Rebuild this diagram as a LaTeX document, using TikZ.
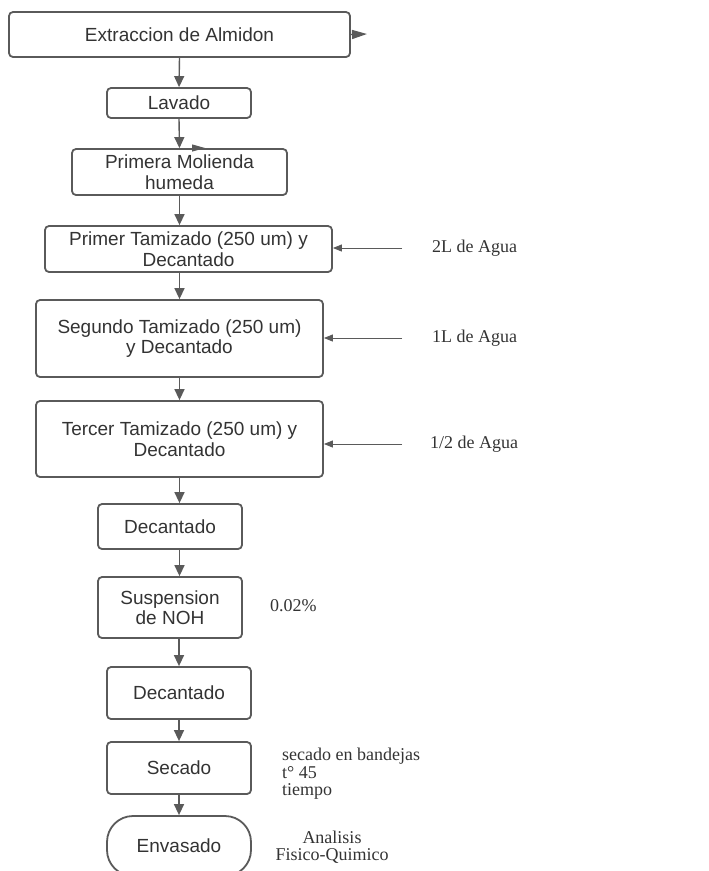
\documentclass[tikz,border=0pt]{standalone}
\usepackage{fontspec}
\setmainfont{Liberation Serif}
\setsansfont{Liberation Sans}
\usetikzlibrary{arrows.meta}
\definecolor{linegray}{HTML}{5A5A5A}
\definecolor{textgray}{HTML}{333333}

\begin{document}
\begin{tikzpicture}[x=1pt,y=-1pt]
        % Define styles
        \tikzset{
            process/.style={rectangle, draw=linegray, line width=1.8pt, rounded corners=4pt, inner sep=0pt, text=textgray, align=center, font=\sffamily\fontsize{19}{20.5}\selectfont},
            arrow/.style={-{Triangle[length=11pt,width=10pt]}, linegray, line width=1.4pt},
            feed/.style={-{Triangle[length=9pt,width=7pt]}, linegray, line width=0.9pt},
            note/.style={text=textgray, align=left, inner sep=0pt, font=\fontsize{18}{17.5}\selectfont}
        }
        \useasboundingbox (0,0) rectangle (709,871);

        % Nodes
        \node[process, minimum width=341pt, minimum height=45pt] (process_node_1) at (179.5,34.5) {Extraccion de Almidon};
        \node[process, minimum width=144pt, minimum height=30pt] (process_node_2) at (179,103) {Lavado};
        \node[process, minimum width=215pt, minimum height=46pt] (process_node_3) at (179.5,172) {Primera Molienda\\humeda};
        \node[process, minimum width=287pt, minimum height=46pt] (process_node_4) at (188.5,249) {Primer Tamizado (250 um) y\\Decantado};
        \node[process, minimum width=287pt, minimum height=77pt] (process_node_5) at (179.5,338.5) {Segundo Tamizado (250 um)\\y Decantado};
        \node[process, minimum width=287pt, minimum height=76pt] (process_node_6) at (179.5,439) {Tercer Tamizado (250 um) y\\Decantado};
        \node[process, minimum width=144pt, minimum height=45pt] (process_node_7) at (170,526.5) {Decantado};
        \node[process, minimum width=144pt, minimum height=61pt] (process_node_8) at (170,607.5) {Suspension\\de NOH};
        \node[process, minimum width=144pt, minimum height=52pt] (process_node_9) at (179,693) {Decantado};
        \node[process, minimum width=144pt, minimum height=52pt] (process_node_10) at (179,768) {Secado};
        \node[process, minimum width=144pt, minimum height=60pt, rounded corners=26pt] (process_node_11) at (179,846) {Envasado};

        \node[note, anchor=west] (water_node_1) at (432,248) {2L de Agua};
        \node[note, anchor=west] (water_node_2) at (432,338) {1L de Agua};
        \node[note, anchor=west] (water_node_3) at (430,444) {1/2 de Agua};
        \node[note, anchor=west] (note_node_1) at (270,606) {0.02\%};
        \node[note, anchor=west] (note_node_2) at (282,774) {secado en bandejas\\t° 45\\tiempo};
        \node[note, align=center] (note_node_3) at (332,847) {Analisis\\Fisico-Quimico};

        \coordinate (water_start_1) at (402,248);
        \coordinate (water_start_2) at (402,338);
        \coordinate (water_start_3) at (402,444);
        \coordinate (stub_end) at (367,34);
        \coordinate (stray_start) at (188,148);
        \coordinate (stray_end) at (205,148);

        % Arrows
        \draw[arrow] (process_node_1.south) -- (process_node_2.north);
        \draw[arrow] (process_node_2.south) -- (process_node_3.north);
        \draw[arrow] (process_node_3.south) -- (process_node_3.south |- process_node_4.north);
        \draw[arrow] (process_node_4.south -| process_node_5.north) -- (process_node_5.north);
        \draw[arrow] (process_node_5.south) -- (process_node_6.north);
        \draw[arrow] (process_node_6.south) -- (process_node_6.south |- process_node_7.north);
        \draw[arrow] (process_node_7.south -| process_node_6.south) -- (process_node_6.south |- process_node_8.north);
        \draw[arrow] (process_node_8.south -| process_node_9.north) -- (process_node_9.north);
        \draw[arrow] (process_node_9.south) -- (process_node_10.north);
        \draw[arrow] (process_node_10.south) -- (process_node_11.north);

        \draw[feed] (water_start_1) -- (water_start_1 -| process_node_4.east);
        \draw[feed] (water_start_2) -- (water_start_2 -| process_node_5.east);
        \draw[feed] (water_start_3) -- (water_start_3 -| process_node_6.east);

        \draw[-{Triangle[length=15pt,width=9pt]}, linegray, line width=1.4pt] (process_node_1.east) -- (stub_end);
        \draw[-{Triangle[length=13pt,width=7pt]}, linegray, line width=1pt] (stray_start) -- (stray_end);
    \end{tikzpicture}
\end{document}
